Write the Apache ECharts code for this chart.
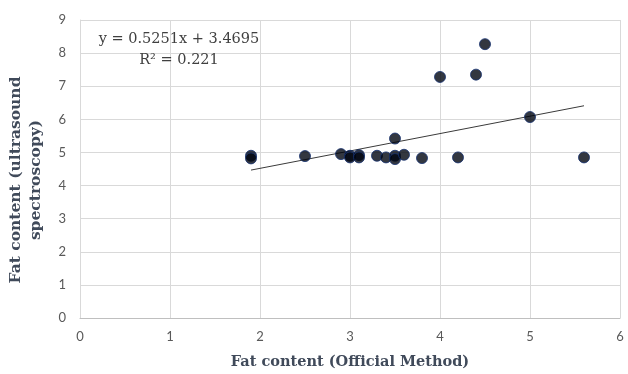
<!DOCTYPE html>
<html style="height: 100%">
<head>
	<meta charset="utf-8">
	<script src="https://cdn.jsdelivr.net/npm/echarts@6/dist/echarts.min.js"></script>
</head>
<body style="height: 100%; margin: 0; background: #fff">
	<div id="container" style="width: 628px; height: 374px;"></div>
	<script type="text/javascript">
		// readings: official method vs ultrasound spectroscopy
		let officialFat = [1.9, 1.9, 2.5, 2.9, 3.0, 3.0, 3.1, 3.1, 3.3, 3.4, 3.5, 3.5, 3.5, 3.6, 3.8, 4.0, 4.2, 4.4, 4.5, 5.0, 5.6];
		let ultrasoundFat = [4.9, 4.82, 4.89, 4.95, 4.9, 4.85, 4.92, 4.85, 4.9, 4.85, 5.42, 4.9, 4.8, 4.93, 4.83, 7.28, 4.85, 7.35, 8.27, 6.07, 4.85];
		let slope = 0.5251;
		let intercept = 3.4695;
		let rSquared = 0.221;
		let trendX = [1.9, 5.6];

		let dom = document.getElementById("container");
		let myChart = echarts.init(dom);

		let points = officialFat.map(function (x, i) { return [x, ultrasoundFat[i]]; });
		let trend = trendX.map(function (x) { return [x, slope * x + intercept]; });

		let option = {
			animation: false,
			grid: { left: 80, right: 8, top: 20, bottom: 56, outerBoundsMode: 'none' },
			title: {
				text: 'y = ' + slope + 'x + ' + intercept + '\nR\u00b2 = ' + rSquared,
				left: 174,
				top: 24,
				textAlign: 'center',
				textStyle: {
					fontFamily: 'DejaVu Serif',
					fontSize: 14.5,
					fontWeight: 'normal',
					color: '#404040',
					lineHeight: 21,
					align: 'center'
				}
			},
			xAxis: {
				type: 'value',
				min: 0, max: 6, interval: 1,
				name: 'Fat content (Official Method)',
				nameLocation: 'middle',
				nameGap: 37,
				nameTextStyle: { fontFamily: 'DejaVu Serif', fontWeight: 'bold', fontSize: 14.5, color: '#404a5a' },
				axisLine: { lineStyle: { color: '#bfbfbf' } },
				axisTick: { show: false },
				axisLabel: { fontFamily: 'Lato', fontSize: 13, color: '#595959', margin: 12 },
				splitLine: { lineStyle: { color: '#d9d9d9' } }
			},
			yAxis: {
				type: 'value',
				min: 0, max: 9, interval: 1,
				name: 'Fat content (ultrasound\nspectroscopy)',
				nameLocation: 'middle',
				nameGap: 34,
				nameTextStyle: {
					fontFamily: 'DejaVu Serif', fontWeight: 'bold', fontSize: 15.5, color: '#404a5a',
					lineHeight: 20, padding: [0, 22, 0, 0]
				},
				axisLine: { show: true, lineStyle: { color: '#d9d9d9' } },
				axisTick: { show: false },
				axisLabel: { fontFamily: 'Lato', fontSize: 13, color: '#595959', margin: 14 },
				splitLine: { lineStyle: { color: '#d9d9d9' } }
			},
			series: [
				{
					type: 'line',
					data: trend,
					symbol: 'none',
					lineStyle: { color: '#3a3a3a', width: 1 },
					z: 1
				},
				{
					type: 'scatter',
					data: points,
					symbolSize: 11,
					itemStyle: { color: '#000510', borderColor: '#14306e', borderWidth: 1 },
					z: 2
				}
			]
		};

		myChart.setOption(option);
	</script>
</body>
</html>
